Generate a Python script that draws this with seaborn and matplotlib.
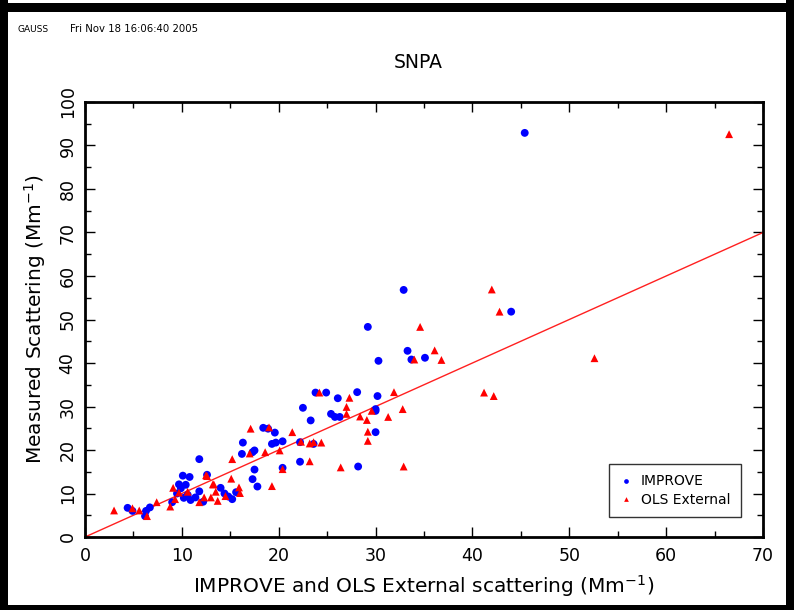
import matplotlib
matplotlib.use("Agg")
import matplotlib.pyplot as plt
from matplotlib.patches import Rectangle
from matplotlib.ticker import MultipleLocator
import pandas as pd
import seaborn as sns

# IMPROVE scattering vs measured scattering (Mm-1)
improve_x = [45.4, 32.9, 29.2, 44.0, 33.3, 33.7, 35.1, 30.3, 23.8, 24.9,
             28.1, 26.1, 30.2, 22.5, 25.4, 25.8, 26.3, 30.0, 30.0, 23.3,
             30.0, 18.4, 18.9, 19.6, 16.3, 16.2, 17.5, 17.3, 19.3, 19.7,
             20.4, 22.2, 23.6, 22.2, 20.4, 17.5, 28.2, 17.3, 17.8, 11.8,
             12.6, 14.0, 14.4, 15.6, 15.2, 11.8, 4.4, 4.9, 6.3, 6.7,
             6.2, 9.0, 10.1, 10.8, 9.7, 10.4, 9.9, 9.5, 10.2, 10.9,
             11.4, 10.6, 12.2, 14.8]
improve_y = [92.9, 56.8, 48.3, 51.8, 42.8, 40.8, 41.2, 40.5, 33.2, 33.2,
             33.3, 31.9, 32.4, 29.7, 28.3, 27.6, 27.6, 29.4, 29.0, 26.8,
             24.1, 25.1, 24.9, 24.0, 21.7, 19.1, 19.9, 19.5, 21.4, 21.7,
             22.0, 21.8, 21.4, 17.3, 15.9, 15.5, 16.2, 13.3, 11.6, 17.9,
             14.3, 11.3, 10.0, 10.3, 8.7, 10.5, 6.7, 6.0, 6.0, 6.8,
             4.8, 8.0, 14.1, 13.8, 12.1, 12.0, 11.2, 10.0, 9.0, 8.5,
             9.1, 9.7, 8.1, 9.3]

# OLS External scattering vs measured scattering (Mm-1)
ols_x = [66.5, 42.0, 42.8, 34.6, 36.1, 34.0, 36.8, 52.6, 41.2, 42.2,
         32.8, 32.9, 24.2, 27.3, 31.9, 27.0, 29.6, 27.0, 28.4, 31.3,
         29.1, 29.2, 29.2, 22.3, 23.2, 23.6, 24.4, 21.4, 17.1, 19.0,
         15.2, 17.0, 18.6, 20.1, 23.2, 26.4, 20.4, 12.5, 12.6, 13.2,
         13.3, 15.1, 15.9, 13.5, 14.5, 16.0, 19.3, 12.3, 13.0, 3.0,
         4.9, 5.6, 6.4, 7.4, 8.8, 9.1, 9.3, 9.7, 10.6, 11.8,
         13.7]
ols_y = [92.6, 56.9, 51.8, 48.3, 42.9, 40.8, 40.7, 41.1, 33.2, 32.4,
         29.4, 16.2, 33.2, 32.0, 33.3, 29.9, 29.0, 28.3, 27.7, 27.6,
         26.9, 24.2, 22.1, 21.9, 21.5, 21.8, 21.7, 24.1, 24.9, 25.2,
         17.9, 19.2, 19.5, 19.9, 17.4, 16.0, 15.6, 14.2, 14.0, 12.1,
         12.1, 13.4, 11.4, 10.4, 9.4, 10.1, 11.7, 9.1, 9.1, 6.1,
         6.6, 6.1, 4.8, 8.0, 7.0, 11.3, 8.7, 10.2, 10.4, 8.0,
         8.3]

series_names = ["IMPROVE", "OLS External"]
one_to_one = [0, 70]

df = pd.concat([
    pd.DataFrame({"x": improve_x, "y": improve_y, "series": series_names[0]}),
    pd.DataFrame({"x": ols_x, "y": ols_y, "series": series_names[1]}),
], ignore_index=True)

sns.set_theme(style="ticks")
plt.rcParams['font.family'] = ['DejaVu Sans']
for key in ['text.color', 'axes.labelcolor', 'xtick.color', 'ytick.color']:
    plt.rcParams[key] = 'black'

W, H = 794, 610
fig = plt.figure(figsize=(W / 100, H / 100), dpi=100)
fig.patch.set_facecolor('white')
ax = fig.add_axes([85 / W, 1 - 537 / H, (763 - 85) / W, (537 - 102) / H])

# 1:1 line
sns.lineplot(x=one_to_one, y=one_to_one, color='#ff2020', lw=1.0, ax=ax, zorder=1)

sns.scatterplot(data=df, x='x', y='y', hue='series', style='series',
                palette={series_names[0]: '#0000ff', series_names[1]: '#ff0000'},
                markers={series_names[0]: 'o', series_names[1]: '^'},
                s=32, linewidth=0, ax=ax, zorder=3)

ax.set_xlim(0, 70)
ax.set_ylim(0, 100)
ax.xaxis.set_major_locator(MultipleLocator(10))
ax.xaxis.set_minor_locator(MultipleLocator(5))
ax.yaxis.set_major_locator(MultipleLocator(10))
ax.yaxis.set_minor_locator(MultipleLocator(5))
ax.tick_params(which='both', direction='in', top=True, right=True,
               color='black', width=1.0, labelsize=12.5, pad=7)
ax.tick_params(which='major', length=7)
ax.tick_params(which='minor', length=4)
ax.tick_params(axis='y', labelrotation=90, pad=6)
for lab in ax.get_yticklabels():
    lab.set_va('center')
for sp in ax.spines.values():
    sp.set_linewidth(2.0)
    sp.set_color('black')

ax.set_xlabel('IMPROVE and OLS External scattering (Mm$^{-1}$)', fontsize=14.5, labelpad=6)
ax.set_ylabel('Measured Scattering (Mm$^{-1}$)', fontsize=14.5, labelpad=8)

handles, labels = ax.get_legend_handles_labels()
leg = ax.legend(handles, labels, loc='lower right', bbox_to_anchor=(0.9676, 0.046),
                borderaxespad=0, frameon=True, fancybox=False, edgecolor='black',
                fontsize=10, markerscale=0.6, handletextpad=0.63, borderpad=0.75,
                labelspacing=0.3, handlelength=0.9)
leg.get_frame().set_linewidth(1.0)

fig.text(418 / W, 1 - 62 / H, 'SNPA', ha='center', va='center', fontsize=13.5)
fig.text(18 / W, 1 - 29 / H, 'GAUSS', ha='left', va='center', fontsize=6.5)
fig.text(70 / W, 1 - 29 / H, 'Fri Nov 18 16:06:40 2005', ha='left', va='center', fontsize=7.3)

# black frame around the page
for (x0, y0, w, h) in [(0, 0, 8, H), (0, 0, W, 5), (0, H - 12, W, 9), (W - 8, 0, 8, H)]:
    fig.add_artist(Rectangle((x0 / W, y0 / H), w / W, h / H, transform=fig.transFigure,
                             facecolor='black', edgecolor='none'))

fig.savefig('out.png', dpi=100)
